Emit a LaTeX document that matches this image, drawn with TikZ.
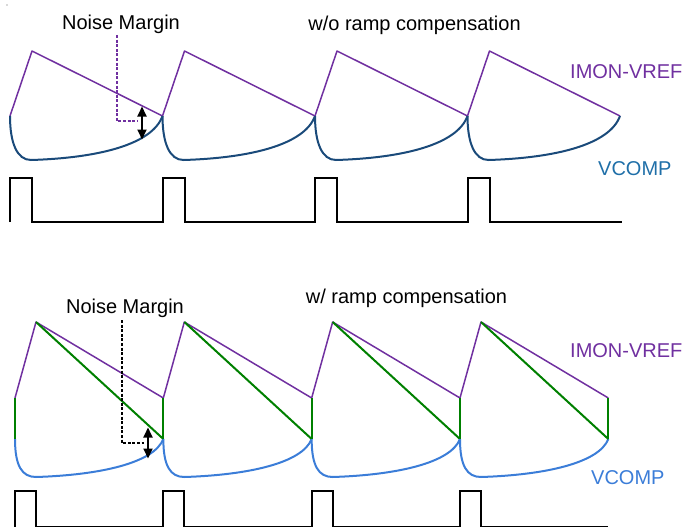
\documentclass[tikz,border=0pt]{standalone}
\usepackage{fontspec}
\setmainfont{Liberation Sans}
\usetikzlibrary{arrows.meta}
\definecolor{imon}{HTML}{7030A0}
\definecolor{vcompdark}{HTML}{1A4A7A}
\definecolor{vcomptxt}{HTML}{1F6FA8}
\definecolor{vcomplight}{HTML}{3B7DD8}
\definecolor{rampg}{HTML}{008000}
\tikzset{
  imonline/.style={draw=imon, line width=1.5pt, line join=round},
  vtopline/.style={draw=vcompdark, line width=2pt},
  vbotline/.style={draw=vcomplight, line width=2pt},
  rampline/.style={draw=rampg, line width=2pt},
  pulseline/.style={draw=black, line width=2pt, line join=miter},
  marginline/.style={line width=2.6pt, dash pattern=on 3pt off 1.6pt},
  marginarrow/.style={line width=1.8pt, {Triangle[length=10pt,width=9pt]}-{Triangle[length=10pt,width=9pt]}},
  lbl/.style={inner sep=0pt, font=\fontsize{20}{24}\selectfont}
}
\begin{document}
\begin{tikzpicture}[x=1pt,y=-1pt]
\useasboundingbox (0,0) rectangle (683,527);
\fill[gray!60] (7,5) circle (0.8);

% ---------------- top panel ----------------
\foreach \i in {0,1,2,3} {
  \pgfmathsetmacro\L{10+152.5*\i}
  \draw[imonline] (\L,116) -- (\L+22,51) -- (\L+152.5,116);
  \draw[vtopline] (\L,116) .. controls (\L,143) and (\L+7,160) .. (\L+21,160)
        .. controls (\L+87,158) and (\L+142,145) .. (\L+152.5,116);
}
\draw[pulseline] (10,222) -- (10,178) -- (32,178) -- (32,222) -- (162.5,222)
  -- (162.5,178) -- (184.5,178) -- (184.5,222) -- (315,222)
  -- (315,178) -- (337,178) -- (337,222) -- (467.5,222)
  -- (467.5,178) -- (489.5,178) -- (489.5,222) -- (622,222);

\node[lbl, anchor=base] (nm1) at (121,29.5) {Noise Margin};
\node[lbl, anchor=base] (t1) at (414.5,31) {w/o ramp compensation};
\node[lbl, anchor=base west, text=imon] (imon1) at (570,78) {IMON-VREF};
\node[lbl, anchor=base west, text=vcomptxt] (vc1) at (598,175.5) {VCOMP};

\coordinate (d1a) at (117,35);
\coordinate (d1b) at (138,121);
\draw[marginline, draw=imon] (d1a) |- (d1b);
\coordinate (a1t) at (142,106.5);
\coordinate (a1b) at (142,139.5);
\draw[marginarrow] (a1t) -- (a1b);

% ---------------- bottom panel ----------------
\foreach \i in {0,1,2,3} {
  \pgfmathsetmacro\L{15+148.33*\i}
  \draw[imonline] (\L,398) -- (\L+21,322) -- (\L+148.33,398);
  \draw[vbotline] (\L,439) .. controls (\L,466) and (\L+7,477) .. (\L+21,477)
        .. controls (\L+85,475) and (\L+139,463) .. (\L+148.33,439);
  \draw[rampline] (\L,398) -- (\L,439);
  \draw[rampline] (\L+21,322) -- (\L+148.33,439);
}
\draw[rampline] (608.3,398) -- (608.3,439);
\draw[pulseline] (15,527) -- (15,491) -- (36,491) -- (36,527) -- (163.3,527)
  -- (163.3,491) -- (184.3,491) -- (184.3,527) -- (311.7,527)
  -- (311.7,491) -- (332.7,491) -- (332.7,527) -- (460,527)
  -- (460,491) -- (481,491) -- (481,527) -- (608.3,527);

\node[lbl, anchor=base] (nm2) at (125,313) {Noise Margin};
\node[lbl, anchor=base] (t2) at (406.5,303) {w/ ramp compensation};
\node[lbl, anchor=base west, text=imon] (imon2) at (570,357) {IMON-VREF};
\node[lbl, anchor=base west, text=vcomplight] (vc2) at (591,484) {VCOMP};

\coordinate (d2a) at (122,320);
\coordinate (d2b) at (144,443);
\draw[marginline, draw=black] (d2a) |- (d2b);
\coordinate (a2t) at (148,427.5);
\coordinate (a2b) at (148,458.5);
\draw[marginarrow] (a2t) -- (a2b);
\end{tikzpicture}
\end{document}
